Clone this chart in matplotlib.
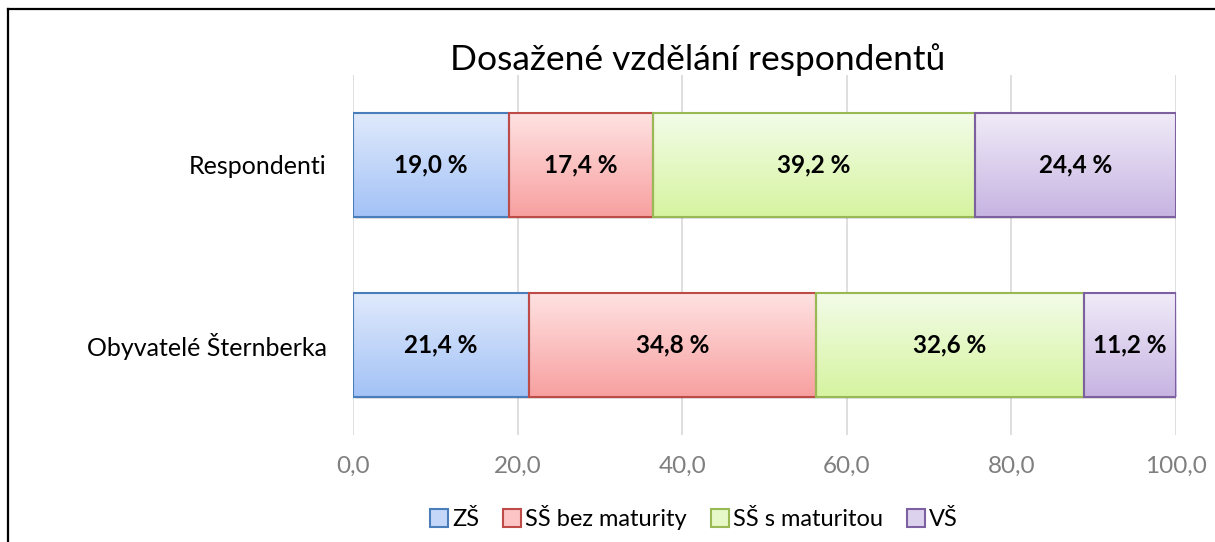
import matplotlib.pyplot as plt
import matplotlib.colors as mcolors
from matplotlib.lines import Line2D
import numpy as np

plt.rcParams['font.family'] = ['Lato', 'DejaVu Sans']

# data
groups = ['Respondenti', 'Obyvatelé Šternberka']
categories = ['ZŠ', 'SŠ bez maturity', 'SŠ s maturitou', 'VŠ']
respondenti = [19.0, 17.4, 39.2, 24.4]
obyvatele = [21.4, 34.8, 32.6, 11.2]

# gradient top / bottom and edge colors
tops = ['#e0eafc', '#ffe2e2', '#f3fce9', '#f0ebf8']
bottoms = ['#a3c2f6', '#f8a0a0', '#d6f4a0', '#c7b4e2']
mids = ['#c4d7f9', '#fcc4c4', '#e6f8c8', '#ddd2ee']
edges = ['#4a7ebb', '#be4b48', '#98b954', '#7d60a0']

W, H = 1215, 542
fig = plt.figure(figsize=(W / 100, H / 100), dpi=100)
ax = fig.add_axes([353 / W, (H - 435) / H, (1176 - 353) / W, 360 / H])

values = [respondenti, obyvatele]
ypos = [1, 0]
bh = 0.578

for gi, vals in enumerate(values):
    y = ypos[gi]
    left = 0
    for ci, v in enumerate(vals):
        # shadow
        ax.barh(y - 0.012, v, left=left + 0.25, height=bh, color='#000000', alpha=0.12,
                linewidth=0, zorder=1)
        cmap = mcolors.LinearSegmentedColormap.from_list('g', [bottoms[ci], tops[ci]])
        grad = np.linspace(0, 1, 100).reshape(-1, 1)
        ax.imshow(grad, cmap=cmap, aspect='auto', origin='lower',
                  extent=[left, left + v, y - bh / 2, y + bh / 2], zorder=2)
        ax.barh(y, v, left=left, height=bh, facecolor='none', edgecolor=edges[ci],
                linewidth=1.5, zorder=3)
        ax.text(left + v / 2, y, f'{v:.1f} %'.replace('.', ','), ha='center', va='center',
                fontsize=17.5, fontweight='bold', color='black', zorder=4)
        left += v

ax.set_xlim(0, 100)
ax.set_ylim(-0.5, 1.5)
ax.set_xticks([0, 20, 40, 60, 80, 100])
ax.set_xticklabels([f'{t:.1f}'.replace('.', ',') for t in [0, 20, 40, 60, 80, 100]],
                   color='#7f7f7f', fontsize=17.5)
ax.set_yticks(ypos)
ax.set_yticklabels(groups, fontsize=18)
ax.tick_params(length=0)
ax.tick_params(axis='x', pad=15)
ax.tick_params(axis='y', pad=19)
ax.grid(axis='x', color='#d9d9d9', linewidth=1.2, zorder=0)
ax.set_axisbelow(True)
for s in ax.spines.values():
    s.set_visible(False)

fig.text(698 / W, 1 - 60 / H, 'Dosažené vzdělání respondentů', ha='center', va='center',
         fontsize=25.5)

handles = [Line2D([], [], marker='s', linestyle='none', markersize=13,
                  markerfacecolor=mids[i], markeredgecolor=edges[i], markeredgewidth=1.5)
           for i in range(4)]
fig.legend(handles, categories, loc='center', bbox_to_anchor=(693 / W, 1 - 518 / H),
           ncol=4, frameon=False, fontsize=17, handletextpad=0.1, columnspacing=0.95,
           handlelength=0.9)

# chart frame (only top and left are visible in the crop)
fig.add_artist(Line2D([8 / W, 8 / W], [0, 1 - 9 / H], color='black', linewidth=1.6,
                      transform=fig.transFigure))
fig.add_artist(Line2D([8 / W, 1], [1 - 9 / H, 1 - 9 / H], color='black', linewidth=1.6,
                      transform=fig.transFigure))

fig.savefig('out.png', dpi=100, facecolor='white')
